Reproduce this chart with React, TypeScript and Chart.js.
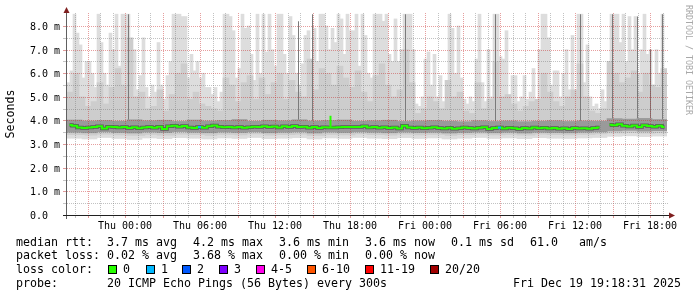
import { useEffect, useRef } from 'react';
import { Chart, registerables } from 'chart.js';

Chart.register(...registerables);

// ---- time axis (hours relative to Thu 00:00) ----
const X_START_HOUR = -4.64;
const X_END_HOUR = 43.36;

const yTickValues = [0, 1, 2, 3, 4, 5, 6, 7, 8];
const yTickLabels = ['0.0', '1.0 m', '2.0 m', '3.0 m', '4.0 m', '5.0 m', '6.0 m', '7.0 m', '8.0 m'];
const xTickHours = [0, 6, 12, 18, 24, 30, 36, 42];
const xTickLabels = ['Thu 00:00', 'Thu 06:00', 'Thu 12:00', 'Thu 18:00', 'Fri 00:00', 'Fri 06:00', 'Fri 12:00', 'Fri 18:00'];

// outer smoke envelope (ms), 200 time bins
const smokeMax = [
  5.6, 6.1, 8.5, 7.7, 7.2, 5.8, 6.5, 6.5, 6.0, 5.4,
  8.5, 7.3, 6.0, 5.5, 7.7, 7.0, 8.5, 6.3, 8.5, 8.5,
  8.5, 6.9, 7.0, 5.3, 5.9, 7.5, 5.4, 5.0, 5.5, 5.2,
  7.3, 5.5, 4.9, 5.9, 6.5, 8.5, 8.5, 8.5, 8.4, 8.4,
  5.8, 6.8, 6.1, 6.5, 5.8, 6.0, 5.4, 5.4, 5.1, 5.4,
  4.8, 5.2, 8.5, 8.5, 8.4, 7.8, 5.8, 6.2, 8.5, 7.9,
  8.0, 6.8, 5.7, 8.5, 6.0, 8.5, 6.9, 8.5, 7.0, 6.3,
  8.5, 8.5, 6.8, 6.0, 8.4, 7.6, 6.0, 5.5, 6.4, 7.6,
  7.8, 5.8, 7.9, 6.5, 8.5, 8.5, 8.0, 7.0, 7.9, 7.3,
  8.5, 8.3, 6.8, 8.5, 7.8, 7.8, 8.5, 6.3, 8.5, 7.6,
  6.0, 5.8, 8.5, 8.5, 8.5, 8.2, 8.5, 6.8, 6.5, 8.3,
  6.5, 7.0, 8.5, 8.5, 8.5, 7.0, 4.7, 4.6, 5.0, 6.6,
  6.9, 5.5, 6.8, 5.0, 5.9, 4.8, 4.6, 8.5, 7.9, 6.0,
  8.0, 5.8, 4.9, 4.7, 5.0, 4.8, 6.6, 8.5, 5.6, 4.8,
  7.0, 5.0, 8.5, 8.5, 6.7, 6.6, 7.8, 5.0, 5.9, 5.9,
  4.8, 5.0, 5.9, 4.9, 5.2, 6.2, 4.8, 7.0, 8.5, 8.5,
  7.5, 5.5, 6.1, 6.1, 5.0, 6.0, 7.0, 5.3, 7.6, 5.0,
  8.5, 8.5, 5.6, 7.2, 5.0, 4.6, 4.7, 4.5, 5.3, 4.8,
  5.5, 8.5, 8.5, 8.5, 7.3, 8.5, 6.5, 8.4, 7.0, 8.4,
  6.0, 7.0, 8.5, 6.8, 7.0, 5.5, 7.0, 6.0, 8.5, 5.5,
];

// lower edge of the outer smoke, 40 bins
const smokeFloor = [
  3.25, 3.22, 3.28, 3.24, 3.2, 3.26, 3.23, 3.27, 3.25, 3.22,
  3.26, 3.24, 3.28, 3.23, 3.25, 3.27, 3.22, 3.26, 3.24, 3.28,
  3.25, 3.23, 3.27, 3.24, 3.26, 3.22, 3.25, 3.28, 3.24, 3.26,
  3.23, 3.27, 3.25, 3.24, 3.26, 3.28, 3.33, 3.35, 3.32, 3.34,
];

// middle smoke envelope, 100 bins
const smokeMid = [
  5.2, 6.0, 5.0, 4.6, 4.8, 5.6, 4.7, 5.4, 6.2, 5.5,
  7.5, 5.0, 5.2, 4.5, 4.6, 5.3, 4.4, 5.1, 6.0, 6.4,
  4.9, 5.2, 4.7, 4.6, 4.5, 4.4, 5.8, 5.5, 4.8, 5.6,
  5.9, 4.9, 5.8, 5.1, 5.6, 6.0, 4.9, 5.7, 5.2, 5.0,
  6.6, 5.3, 6.2, 6.0, 5.5, 6.3, 5.8, 5.4, 6.1, 5.2,
  4.8, 5.9, 6.4, 5.5, 5.0, 5.3, 7.0, 5.6, 4.3, 4.5,
  5.0, 4.8, 4.5, 5.7, 5.0, 5.2, 4.4, 4.3, 5.6, 4.5,
  4.9, 6.5, 5.0, 5.1, 4.7, 4.4, 4.6, 4.8, 4.9, 6.0,
  5.2, 4.8, 4.6, 5.0, 5.3, 6.4, 5.0, 4.4, 4.3, 4.5,
  6.5, 6.0, 5.6, 5.8, 6.1, 5.2, 6.0, 5.5, 5.4, 6.2,
];

const midFloor = [
  3.40, 3.38, 3.42, 3.39, 3.37, 3.41, 3.38, 3.42, 3.40, 3.37,
  3.41, 3.39, 3.43, 3.38, 3.40, 3.42, 3.37, 3.41, 3.39, 3.43,
  3.40, 3.38, 3.42, 3.39, 3.41, 3.37, 3.40, 3.43, 3.39, 3.41,
  3.38, 3.42, 3.40, 3.39, 3.41, 3.43, 3.47, 3.49, 3.46, 3.48,
];

// dense inner smoke band, 40 bins
const darkFloor = [
  3.50, 3.48, 3.52, 3.49, 3.47, 3.51, 3.49, 3.53, 3.50, 3.48,
  3.51, 3.49, 3.52, 3.48, 3.50, 3.52, 3.47, 3.51, 3.49, 3.52,
  3.50, 3.48, 3.51, 3.49, 3.50, 3.47, 3.49, 3.51, 3.48, 3.50,
  3.47, 3.50, 3.49, 3.48, 3.50, 3.52, 3.56, 3.58, 3.55, 3.57,
];
const darkTop = [
  4.02, 3.98, 4.00, 3.97, 4.03, 3.99, 4.01, 3.96, 4.02, 3.98,
  4.00, 4.04, 3.97, 4.01, 3.99, 4.03, 3.98, 4.00, 4.02, 3.97,
  3.99, 4.01, 3.96, 3.98, 4.00, 3.97, 3.95, 3.99, 3.96, 3.98,
  3.95, 3.97, 3.99, 3.96, 3.98, 3.97, 4.08, 4.06, 4.09, 4.04,
];

// bursts where many pings were slow (hour, top in ms)
const spikeHours = [0.28, 13.88, 15.0, 22.44, 29.64, 36.44, 39.0, 41.0, 42.04, 43.0];
const spikeTops = [8.5, 8.2, 8.5, 8.5, 8.5, 8.5, 8.5, 8.4, 7.0, 8.5];
const SPIKE_BASE = 3.95;

// median RTT (ms), 120 bins; null = no data
const medianRtt: (number | null)[] = [
  3.81, 3.78, 3.70, 3.68, 3.70, 3.72, 3.76, 3.66, 3.74, 3.72,
  3.70, 3.73, 3.68, 3.71, 3.67, 3.70, 3.72, 3.69, 3.74, 3.64,
  3.76, 3.78, 3.74, 3.77, 3.70, 3.68, 3.72, 3.69, 3.76, 3.79,
  3.74, 3.71, 3.73, 3.70, 3.72, 3.69, 3.71, 3.74, 3.73, 3.76,
  3.72, 3.75, 3.70, 3.76, 3.73, 3.77, 3.72, 3.74, 3.69, 3.72,
  3.68, 3.71, 3.70, 3.70, 3.71, 3.73, 3.72, 3.73, 3.72, 3.76,
  3.70, 3.72, 3.69, 3.71, 3.68, 3.70, 3.66, 3.78, 3.70, 3.68,
  3.70, 3.67, 3.69, 3.71, 3.68, 3.66, 3.69, 3.65, 3.67, 3.70,
  3.68, 3.66, 3.69, 3.71, 3.64, 3.68, 3.70, 3.66, 3.69, 3.67,
  3.64, 3.68, 3.66, 3.70, 3.67, 3.69, 3.66, 3.68, 3.65, 3.67,
  3.64, 3.68, 3.66, 3.67, 3.65, 3.68, 3.70, null, 3.82, 3.80,
  3.84, 3.78, 3.75, 3.79, 3.72, 3.80, 3.77, 3.74, 3.78, 3.72,
];
// short-lived median peak (hour, value in ms)
const medianPeakHour = 16.44;
const medianPeakValue = 4.2;
const lossBins = [26, 86];
const lossCounts = [1, 1];

const lossColorLabels = ['0', '1', '2', '3', '4-5', '6-10', '11-19', '20/20'];
const lossColorValues = ['#26ff00', '#00b8ff', '#0059ff', '#7e00ff', '#ff00ea', '#ff5500', '#ff0000', '#a10000'];
const legendMedian = ['median rtt:', '3.7 ms avg', '4.2 ms max', '3.6 ms min', '3.6 ms now', '0.1 ms sd', '61.0   am/s'];
const legendLoss = ['packet loss:', '0.02 % avg', '3.68 % max', '0.00 % min', '0.00 % now'];
const probeLabel = 'probe:';
const probeText = '20 ICMP Echo Pings (56 Bytes) every 300s';
const stampText = 'Fri Dec 19 19:18:31 2025';
const yTitle = 'Seconds';
const watermark = 'RRDTOOL / TOBI OETIKER';

const MONO = '"DejaVu Sans Mono", monospace';
const MINOR = 'rgba(120,120,120,0.45)';
const MAJOR = 'rgba(200,40,40,0.45)';
const MINOR_SOLID = '#c4c4c4';
const MAJOR_SOLID = '#e09a9a';

const binCenter = (i: number, n: number) => X_START_HOUR + ((i + 0.5) * (X_END_HOUR - X_START_HOUR)) / n;
const pick = (arr: number[], i: number, n: number) => arr[Math.floor((i * arr.length) / n)];

const hiddenX = () => ({
  type: 'linear' as const,
  display: false,
  min: X_START_HOUR,
  max: X_END_HOUR,
  offset: false,
  bounds: 'data' as const,
  grid: { offset: false },
  afterBuildTicks: (s: any) => {
    s.ticks = [];
  },
});

const smokePlugin = {
  id: 'smokepingFrame',
  beforeDraw(chart: any) {
    const { ctx, width, height } = chart;
    ctx.save();
    ctx.fillStyle = '#ffffff';
    ctx.fillRect(0, 0, width, height);
    ctx.restore();
  },
  afterDatasetDraw(chart: any, args: any) {
    if (chart.data.datasets[args.index].label !== 'dark') return;
    const { ctx, chartArea: a, scales } = chart;
    const xs = scales.x;
    const ys = scales.y;
    ctx.save();
    ctx.lineWidth = 1;
    ctx.setLineDash([1, 1]);
    for (let h = Math.ceil(X_START_HOUR); h <= Math.floor(X_END_HOUR); h++) {
      const px = Math.round(xs.getPixelForValue(h)) + 0.5;
      const major = ((h % 3) + 3) % 3 === 0;
      ctx.strokeStyle = major ? MAJOR : MINOR;
      ctx.beginPath();
      ctx.moveTo(px, a.top);
      ctx.lineTo(px, a.bottom);
      ctx.stroke();
    }
    for (let k = 1; k * 0.5 < ys.max - 0.1; k++) {
      const v = k * 0.5;
      const py = Math.round(ys.getPixelForValue(v)) + 0.5;
      ctx.strokeStyle = k % 2 === 0 ? MAJOR : MINOR;
      ctx.beginPath();
      ctx.moveTo(a.left, py);
      ctx.lineTo(a.right + 1, py);
      ctx.stroke();
    }
    ctx.restore();
  },
  afterDraw(chart: any) {
    const { ctx, chartArea: a, scales } = chart;
    const xs = scales.x;
    const ys = scales.y;
    ctx.save();
    ctx.setLineDash([]);
    ctx.lineWidth = 1;
    // tick marks
    for (let h = Math.ceil(X_START_HOUR); h <= Math.floor(X_END_HOUR); h++) {
      const px = Math.round(xs.getPixelForValue(h)) + 0.5;
      const major = ((h % 3) + 3) % 3 === 0;
      ctx.strokeStyle = major ? MAJOR_SOLID : MINOR_SOLID;
      ctx.beginPath();
      ctx.moveTo(px, a.bottom + 1);
      ctx.lineTo(px, a.bottom + 3);
      ctx.stroke();
    }
    for (let k = 0; k * 0.5 < ys.max - 0.1; k++) {
      const py = Math.round(ys.getPixelForValue(k * 0.5)) + 0.5;
      ctx.strokeStyle = k % 2 === 0 ? MAJOR_SOLID : MINOR_SOLID;
      ctx.beginPath();
      ctx.moveTo(a.left - 4, py);
      ctx.lineTo(a.left - 1, py);
      ctx.stroke();
    }
    // axes
    const ax = a.left - 0.5;
    const ay = a.bottom + 0.5;
    ctx.strokeStyle = '#606060';
    ctx.beginPath();
    ctx.moveTo(ax, a.bottom + 4);
    ctx.lineTo(ax, a.top);
    ctx.stroke();
    ctx.strokeStyle = '#202020';
    ctx.beginPath();
    ctx.moveTo(a.left - 4, ay);
    ctx.lineTo(a.right + 2, ay);
    ctx.stroke();
    // arrows
    ctx.fillStyle = '#7f1f1f';
    ctx.beginPath();
    ctx.moveTo(ax - 3, a.top);
    ctx.lineTo(ax + 3, a.top);
    ctx.lineTo(ax, a.top - 6);
    ctx.closePath();
    ctx.fill();
    ctx.beginPath();
    ctx.moveTo(a.right + 2, ay - 3);
    ctx.lineTo(a.right + 2, ay + 3);
    ctx.lineTo(a.right + 8, ay);
    ctx.closePath();
    ctx.fill();

    // tick labels
    ctx.fillStyle = '#000000';
    ctx.font = `10px ${MONO}`;
    ctx.textBaseline = 'alphabetic';
    ctx.textAlign = 'left';
    yTickValues.forEach((v, i) => {
      const py = Math.round(ys.getPixelForValue(v));
      ctx.fillText(yTickLabels[i], 30, py + 3.6);
    });
    ctx.textAlign = 'center';
    xTickHours.forEach((h, i) => {
      const px = Math.round(xs.getPixelForValue(h));
      ctx.fillText(xTickLabels[i], px, a.bottom + 13.5);
    });

    // axis title
    ctx.font = `11.63px ${MONO}`;
    ctx.save();
    ctx.translate(10.5, 114);
    ctx.rotate(-Math.PI / 2);
    ctx.textAlign = 'center';
    ctx.textBaseline = 'middle';
    ctx.fillText(yTitle, 0, 0);
    ctx.restore();

    // watermark
    ctx.save();
    ctx.font = `8.3px ${MONO}`;
    ctx.fillStyle = '#a8a8a8';
    ctx.translate(688.5, 60);
    ctx.rotate(Math.PI / 2);
    ctx.textAlign = 'center';
    ctx.textBaseline = 'middle';
    ctx.fillText(watermark, 0, 0);
    ctx.restore();

    // legend
    ctx.font = `11.63px ${MONO}`;
    ctx.textAlign = 'left';
    ctx.textBaseline = 'alphabetic';
    ctx.fillStyle = '#000000';
    const cols = [16, 107, 193, 279, 365, 451, 530];
    legendMedian.forEach((t, i) => ctx.fillText(t, cols[i], 245.5));
    legendLoss.forEach((t, i) => ctx.fillText(t, cols[i], 259));
    ctx.fillText('loss color:', 16, 273);
    const boxX = [108, 145.7, 182.3, 219, 255.7, 306.7, 365, 430];
    lossColorLabels.forEach((t, i) => {
      const bx = Math.round(boxX[i]);
      ctx.fillStyle = lossColorValues[i];
      ctx.fillRect(bx, 265, 9, 9);
      ctx.strokeStyle = '#000000';
      ctx.strokeRect(bx + 0.5, 265.5, 8, 8);
      ctx.fillStyle = '#000000';
      ctx.fillText(t, bx + 15, 273);
    });
    ctx.fillText(probeLabel, 16, 286.5);
    ctx.fillText(probeText, 107, 286.5);
    ctx.textAlign = 'right';
    ctx.fillText(stampText, 681, 286.5);
    ctx.restore();
  },
};

export default function App() {
  const ref = useRef<HTMLCanvasElement | null>(null);

  useEffect(() => {
    document.body.style.margin = '0';
    const canvas = ref.current;
    if (!canvas) return;

    const light = smokeMax.map((v, i) => ({ x: binCenter(i, smokeMax.length), y: [pick(smokeFloor, i, smokeMax.length), v] }));
    const mid = smokeMid.map((v, i) => ({ x: binCenter(i, smokeMid.length), y: [pick(midFloor, i, smokeMid.length), v] }));
    const dark = darkTop.map((v, i) => ({ x: binCenter(i, darkTop.length), y: [darkFloor[i], v] }));
    const spikes = spikeHours.map((h, i) => ({ x: h, y: [SPIKE_BASE, spikeTops[i]] }));
    const median = medianRtt.map((v, i) => ({ x: binCenter(i, medianRtt.length), y: v }));
    const peakBase = medianRtt[Math.floor(((medianPeakHour - X_START_HOUR) / (X_END_HOUR - X_START_HOUR)) * medianRtt.length)] as number;
    const peak = [{ x: medianPeakHour, y: [peakBase, medianPeakValue] }];
    const loss = lossBins.map((k) => ({
      x: binCenter(k, medianRtt.length),
      y: [(medianRtt[k] as number) - 0.045, (medianRtt[k] as number) + 0.045],
    }));

    const barCommon = {
      type: 'bar' as const,
      grouped: false,
      barPercentage: 1,
      categoryPercentage: 1,
      borderWidth: 0,
    };

    const chart = new Chart(canvas, {
      type: 'bar',
      data: {
        datasets: [
          { ...barCommon, label: 'light', xAxisID: 'xa', data: light as any, backgroundColor: '#dddddd', order: 8 },
          { ...barCommon, label: 'medium', xAxisID: 'xb', data: mid as any, backgroundColor: '#cdcdcd', order: 7 },
          { ...barCommon, label: 'spikes', xAxisID: 'xd', data: spikes as any, backgroundColor: '#7a7a7a', maxBarThickness: 1, inflateAmount: 0, order: 6 },
          { ...barCommon, label: 'dark', xAxisID: 'xc', data: dark as any, backgroundColor: '#9a9a9a', order: 5 },
          {
            type: 'line' as const,
            label: 'medianShade',
            xAxisID: 'x',
            data: median as any,
            borderColor: '#5a5a5a',
            borderWidth: 3.5,
            stepped: 'middle' as const,
            pointRadius: 0,
            spanGaps: false,
            order: 4,
          },
          {
            ...barCommon,
            label: 'peak',
            xAxisID: 'xf',
            data: peak as any,
            backgroundColor: '#26ff00',
            borderColor: '#202020',
            borderWidth: 0,
            maxBarThickness: 2,
            inflateAmount: 0,
            order: 3,
          },
          {
            type: 'line' as const,
            label: 'median',
            xAxisID: 'x',
            data: median as any,
            borderColor: '#26ff00',
            borderWidth: 2,
            stepped: 'middle' as const,
            pointRadius: 0,
            spanGaps: false,
            order: 2,
          },
          {
            ...barCommon,
            label: 'loss',
            xAxisID: 'xe',
            data: loss as any,
            backgroundColor: lossCounts.map((c) => lossColorValues[c]),
            maxBarThickness: 3,
            inflateAmount: 0,
            order: 1,
          },
        ] as any,
      },
      options: {
        responsive: false,
        animation: false,
        events: [],
        layout: { padding: { left: 67, right: 30, top: 13, bottom: 82 } },
        plugins: { legend: { display: false }, tooltip: { enabled: false }, title: { display: false } },
        scales: {
          x: hiddenX(),
          xa: hiddenX(),
          xb: hiddenX(),
          xc: hiddenX(),
          xd: hiddenX(),
          xe: hiddenX(),
          xf: hiddenX(),
          y: { type: 'linear', display: false, min: 0, max: 8.55, bounds: 'data' },
        } as any,
      },
      plugins: [smokePlugin],
    });

    return () => chart.destroy();
  }, []);

  return <canvas ref={ref} width={697} height={297} style={{ display: 'block', width: 697, height: 297 }} />;
}
